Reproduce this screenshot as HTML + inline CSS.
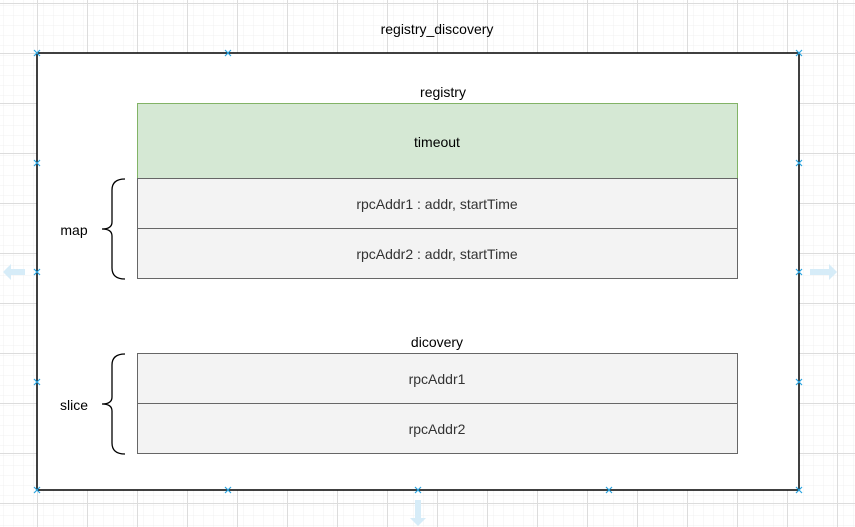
<!DOCTYPE html>
<html><head><style>
html,body{margin:0;padding:0;background:#fff;}
svg{display:block;font-family:"Liberation Sans",Arial,sans-serif;}
</style></head><body>
<svg width="855" height="527" xmlns="http://www.w3.org/2000/svg">
<defs>
<pattern id="minor" x="7" y="3" width="10" height="10" patternUnits="userSpaceOnUse">
<path d="M10 0V10M0 10H10" fill="none" stroke="#f0f0f0" stroke-width="1"/>
</pattern>
<pattern id="major" x="37" y="3" width="50" height="50" patternUnits="userSpaceOnUse">
<rect width="50" height="50" fill="url(#minor)"/>
<path d="M0.5 0V50M0 0.5H50" fill="none" stroke="#dcdcdc" stroke-width="1"/>
</pattern>
</defs>
<rect width="855" height="527" fill="url(#major)"/>
<rect x="37" y="53" width="762" height="437" fill="#fff" stroke="#000" stroke-width="1.5"/>
<text x="437" y="34" font-size="14" text-anchor="middle">registry_discovery</text>
<text x="443" y="97" font-size="14" text-anchor="middle">registry</text>
<rect x="137.5" y="103.5" width="600" height="75" fill="#d5e8d4" stroke="#82b366"/>
<text x="437" y="147" font-size="14" text-anchor="middle">timeout</text>
<rect x="137.5" y="178.5" width="600" height="50" fill="#f3f3f3" stroke="#666"/>
<rect x="137.5" y="228.5" width="600" height="50" fill="#f3f3f3" stroke="#666"/>
<text x="437" y="209" font-size="14" text-anchor="middle" fill="#333">rpcAddr1 : addr, startTime</text>
<text x="437" y="259" font-size="14" text-anchor="middle" fill="#333">rpcAddr2 : addr, startTime</text>
<text x="437" y="347" font-size="14" text-anchor="middle">dicovery</text>
<rect x="137.5" y="353.5" width="600" height="50" fill="#f3f3f3" stroke="#666"/>
<rect x="137.5" y="403.5" width="600" height="50" fill="#f3f3f3" stroke="#666"/>
<text x="437" y="384" font-size="14" text-anchor="middle" fill="#333">rpcAddr1</text>
<text x="437" y="434" font-size="14" text-anchor="middle" fill="#333">rpcAddr2</text>
<path d="M125 179 Q112 179 112 190 V222 Q112 229 102 229 Q112 229 112 236 V268 Q112 279 125 279" fill="none" stroke="#000" stroke-width="1.3"/>
<text x="74" y="235" font-size="14" text-anchor="middle">map</text>
<path d="M125 354 Q112 354 112 365 V397 Q112 404 102 404 Q112 404 112 411 V443 Q112 454 125 454" fill="none" stroke="#000" stroke-width="1.3"/>
<text x="74" y="410" font-size="14" text-anchor="middle">slice</text>
<g stroke="#29a3e0" stroke-width="1.2">
<path d="M34 50l6 6M40 50l-6 6M225 50l6 6M231 50l-6 6M796 50l6 6M802 50l-6 6M34 160l6 6M40 160l-6 6M796 160l6 6M802 160l-6 6M34 269l6 6M40 269l-6 6M796 269l6 6M802 269l-6 6M34 379l6 6M40 379l-6 6M796 379l6 6M802 379l-6 6M34 487l6 6M40 487l-6 6M225 487l6 6M231 487l-6 6M415 487l6 6M421 487l-6 6M606 487l6 6M612 487l-6 6M796 487l6 6M802 487l-6 6"/>
</g>
<g fill="#d6ecf8">
<path d="M3 272l8-8v5h14v6h-14v5z"/>
<path d="M837 272l-8-8v5h-19v6h19v5z"/>
<path d="M418 526l-8-8h5v-18h6v18h5z"/>
</g>
</svg>
</body></html>
